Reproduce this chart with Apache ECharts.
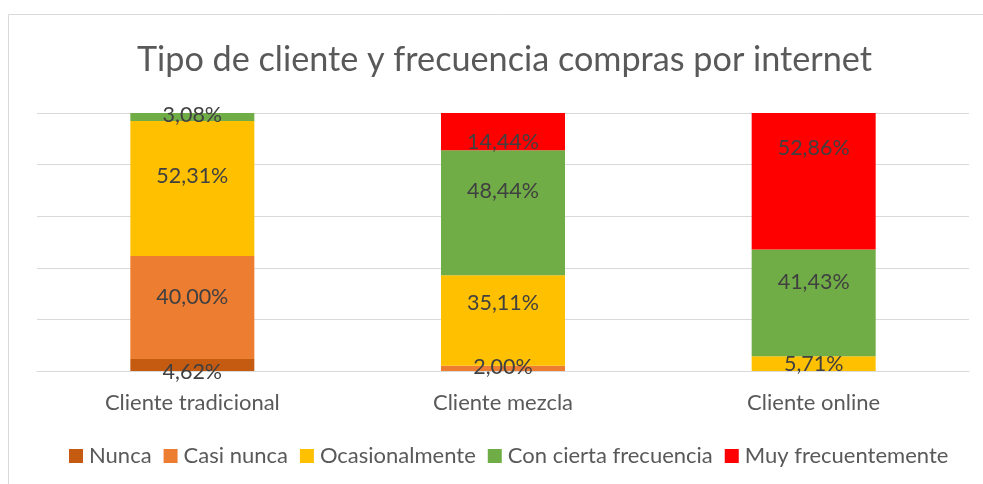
<!DOCTYPE html>
<html>
<head>
<meta charset="utf-8">
<script src="https://cdn.jsdelivr.net/npm/echarts@6/dist/echarts.min.js"></script>
<style>
  html, body { margin: 0; padding: 0; background: #fff; }
  #chart { width: 983px; height: 484px; }
</style>
</head>
<body>
<div id="chart"></div>
<script>
// categorías y porcentajes
const categories = ['Cliente tradicional', 'Cliente mezcla', 'Cliente online'];
const nunca = [4.62, 0, 0];
const casiNunca = [40.00, 2.00, 0];
const ocasionalmente = [52.31, 35.11, 5.71];
const conCiertaFrecuencia = [3.08, 48.44, 41.43];
const muyFrecuentemente = [0, 14.44, 52.86];

// colores y desplazamiento vertical de etiquetas (movidas a mano en el original)
const seriesDefs = [
  { name: 'Nunca', data: nunca, color: '#C55A11', labelDy: [7, 0, 0] },
  { name: 'Casi nunca', data: casiNunca, color: '#ED7D31', labelDy: [-10, -1, 0] },
  { name: 'Ocasionalmente', data: ocasionalmente, color: '#FFC000', labelDy: [-12, -17, 0] },
  { name: 'Con cierta frecuencia', data: conCiertaFrecuencia, color: '#70AD47', labelDy: [-2, -22, -21] },
  { name: 'Muy frecuentemente', data: muyFrecuentemente, color: '#FF0000', labelDy: [0, 10, -33] },
];

const FONT = 'Lato';
const fmt = (v) => v.toFixed(2).replace('.', ',') + '%';

const chart = echarts.init(document.getElementById('chart'));

chart.setOption({
  animation: false,
  textStyle: { fontFamily: FONT },
  title: {
    text: 'Tipo de cliente y frecuencia compras por internet',
    left: 132,
    top: 38,
    textStyle: { fontSize: 34.2, fontWeight: 'normal', color: '#595959', fontFamily: FONT },
  },
  graphic: [
    {
      type: 'rect',
      shape: { x: 8.5, y: 14.5, width: 1000, height: 500 },
      style: { fill: 'none', stroke: '#d9d9d9', lineWidth: 1 },
      silent: true,
    },
  ],
  legend: {
    bottom: 12,
    left: 64,
    itemWidth: 14,
    itemHeight: 14,
    itemGap: 12,
    icon: 'rect',
    textStyle: { fontSize: 22, color: '#595959', fontFamily: FONT, padding: [0, 0, 0, 1] },
    data: seriesDefs.map((s) => s.name),
  },
  grid: { left: 37, right: 14, top: 113, bottom: 113 },
  xAxis: {
    type: 'category',
    data: categories,
    axisLine: { show: true, lineStyle: { color: '#d9d9d9' } },
    axisTick: { show: false },
    axisLabel: { fontSize: 22, color: '#595959', margin: 21, fontFamily: FONT },
  },
  yAxis: {
    type: 'value',
    min: 0,
    max: 100,
    interval: 20,
    axisLabel: { show: false },
    axisLine: { show: false },
    axisTick: { show: false },
    splitLine: { lineStyle: { color: '#d9d9d9', width: 1 } },
  },
  series: seriesDefs.map((s) => ({
    name: s.name,
    type: 'bar',
    stack: 'total',
    barWidth: 124,
    itemStyle: { color: s.color },
    label: {
      show: true,
      position: 'inside',
      fontSize: 21.5,
      color: '#404040',
      fontFamily: FONT,
      formatter: (p) => (p.value > 0 ? fmt(p.value) : ''),
    },
    data: s.data.map((v, i) => ({
      value: v,
      label: { offset: [0, s.labelDy[i]] },
    })),
  })),
});
</script>
</body>
</html>
